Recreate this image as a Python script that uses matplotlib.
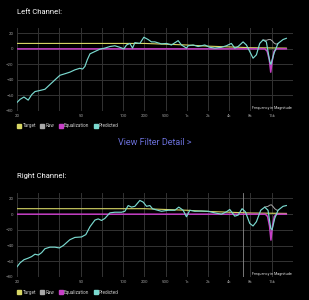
import numpy as np
import matplotlib.pyplot as plt
from matplotlib.lines import Line2D
from matplotlib.scale import FuncScale

plt.rcParams['font.family'] = ['Roboto', 'DejaVu Sans']

# x axis of the app: labels spaced evenly, low end stretched
tick_freqs = [20, 50, 100, 200, 500, 1000, 2000, 4000, 8000, 16000]
tick_labels = ['20', '50', '100', '200', '500', '1k', '2k', '4k', '8k', '16k']
tick_slots = [0, 3, 5, 6, 7, 8, 9, 10, 11, 12]
y_ticks = [20, 0, -20, -40, -60, -80]

# target curve (both channels)
target_f = [20, 200, 500, 1000, 2000, 4000, 8000, 25800]
target_db = [7, 7, 6, 5, 3.5, 2.5, 1.5, 1]

# left channel
left_pred_f = [20, 20.9, 22.1, 22.8, 23.5, 24.7, 25.9, 27.8, 29.9, 32.1, 34.5, 37.1,
               39.9, 42.8, 46, 49.4, 51.6, 53.6, 55.7, 58.2, 63.1, 68.4, 74.2, 80.6,
               87.4, 94.8, 102.5, 111.7, 124.6, 136, 146.7, 172.7, 196.7, 236, 272,
               314, 419, 515, 606, 754, 840, 989, 1045, 1229, 1447, 1799, 2116, 2493,
               3097, 3645, 4287, 4787, 5337, 6281, 7004, 7809, 8700, 9705, 10817,
               12057, 13441, 14989, 15600, 17266, 19666, 23151, 25815]
left_pred_db = [-69, -65, -62, -64, -66, -59, -55, -53.6, -52, -46, -40, -34,
                -32, -30, -27, -25, -26, -22.5, -14, -6.4, -3.4, -0.4, 1, 3,
                4, 2, 0, 5, 7, 1, 8, 7, 15, 12, 9,
                9, 6.4, 7, 5, 10.6, 5, 1, 4, 5, 3, 5, 2, 1,
                2, 4, 7, 1, 3, 9, 5, -3.4, -12, -7.7, 7,
                11.5, 9, -16, -20, -5.5, 7, 12, 13.6]
left_raw_f = [12057, 13441, 14500, 15400, 16400, 17266, 18500, 19666]
left_raw_db = [11.5, 11, 12, 12, 10, 7.5, 6, 7]
left_eq_f = [20, 12800, 13800, 14800, 15500, 16300, 17300, 18800, 25815]
left_eq_db = [0, 0, -3, -14, -30, -15, -3, 0, 0]

# right channel
right_pred_f = [20, 20.9, 22.1, 23.5, 24.7, 25.9, 27.2, 28.5, 29.9, 32.1, 34.5, 36.8,
                38.9, 42.8, 46, 50.7, 54.4, 58.2, 63.1, 66.6, 70.3, 74.2, 80.6, 87.4,
                97.5, 105.8, 118, 131.6, 146.7, 172.7, 192.5, 219.7, 253.7, 284, 314,
                419, 544, 676, 770, 887, 989, 1103, 1298, 1613, 2006, 2493, 3097,
                3645, 4067, 4787, 5337, 6080, 6779, 7809, 8700, 9705, 11174, 12730,
                14192, 15488, 16177, 17650, 19666, 23151, 25815]
right_pred_db = [-67, -62, -58, -56, -54, -51, -52, -49, -44, -42, -42, -43,
                 -40, -32.5, -29.6, -29, -26, -16, -7.5, -6, -8, -5.4, 1.7, 2.5,
                 2.5, 3.7, 11, 9, 10, 17.5, 15.4, 10, 11, 7, 6,
                 3.7, 5, 5, 9, 5, -3.3, 5, 3.7, 4, 3.7, 1.7, 0,
                 3, 6, -2.5, -1.2, 7, 3, -11.7, -15, -9.6, 5, 9,
                 5, -18, -20, -5.4, 5, 10, 11]
right_raw_f = [12730, 14192, 15000, 15800, 16600, 17650, 19000, 19666]
right_raw_db = [9, 10, 11.5, 12, 10, 7, 5, 5]
right_eq_f = [20, 13000, 14000, 14900, 15600, 16400, 17400, 18800, 25815]
right_eq_db = [0, 0, -3, -15, -33, -15, -3, 0, 0]
right_marker_f = 6277

log_knots = np.log10(tick_freqs + [32000])
slots = np.array(tick_slots + [13], dtype=float)


def fwd(f):
    f = np.asarray(f, dtype=float)
    return np.interp(np.log10(np.clip(f, 1e-6, None)), log_knots, slots)


def inv(x):
    return 10 ** np.interp(np.asarray(x, dtype=float), slots, log_knots)


BG = '#000000'
GRID = '#333333'
C_TARGET = '#d8d765'
C_RAW = '#a8a8a8'
C_EQ = '#c63fc6'
C_PRED = '#7ad9cf'


def draw_channel(ax, pf, pdb, rf, rdb, ef, edb):
    ax.set_facecolor(BG)
    ax.set_xscale(FuncScale(ax, (fwd, inv)))
    ax.set_xlim(20, 32000)
    ax.set_ylim(-80, 27)
    for s in ax.spines.values():
        s.set_visible(False)
    for k in range(14):
        ax.axvline(inv(k), color=GRID, lw=0.7, zorder=0)
    for y in y_ticks:
        ax.axhline(y, color=GRID, lw=0.7, zorder=0)
    ax.plot(target_f, target_db, color=C_TARGET, lw=0.8, zorder=2)
    ax.plot(rf, rdb, color=C_RAW, lw=0.7, zorder=2)
    ax.plot(ef, edb, color=C_EQ, lw=1.1, zorder=3)
    ax.plot(pf, pdb, color=C_PRED, lw=0.85, zorder=4)
    ax.set_xticks(tick_freqs)
    ax.set_xticklabels(tick_labels)
    ax.set_xticks([], minor=True)
    ax.set_yticks(y_ticks)
    ax.tick_params(length=0, labelsize=3.2, colors='#9a9a9a', pad=2.5)
    ax.text(0.995, 0.015, 'Frequency in Magnitude', transform=ax.transAxes,
            ha='right', va='bottom', fontsize=2.7, color='#dddddd')
    handles = [Line2D([], [], ls='none', marker='s', ms=3, mfc=c, mec=c)
               for c in (C_TARGET, C_RAW, C_EQ, C_PRED)]
    leg = ax.legend(handles, ['Target', 'Raw', 'Equalization', 'Predicted'],
                    loc='center left', bbox_to_anchor=(-0.005, -0.18), ncol=4,
                    frameon=False, fontsize=3.3, handlelength=0.8,
                    handletextpad=0.3, columnspacing=1.0, borderaxespad=0)
    for t in leg.get_texts():
        t.set_color('#cccccc')


fig = plt.figure(figsize=(3.09, 3.0), dpi=100, facecolor=BG)

ax1 = fig.add_axes([0.055, 0.63, 0.893, 0.277])
draw_channel(ax1, left_pred_f, left_pred_db, left_raw_f, left_raw_db,
             left_eq_f, left_eq_db)

ax2 = fig.add_axes([0.055, 0.0767, 0.893, 0.28])
draw_channel(ax2, right_pred_f, right_pred_db, right_raw_f, right_raw_db,
             right_eq_f, right_eq_db)
ax2.axvline(right_marker_f, color='#8a8a8a', lw=0.6, zorder=1)

fig.text(17 / 309, 1 - 12 / 300, 'Left Channel:', color='white', fontsize=5.5,
         ha='left', va='center')
fig.text(17 / 309, 1 - 176 / 300, 'Right Channel:', color='white', fontsize=5.5,
         ha='left', va='center')
fig.text(0.5, 1 - 142 / 300, 'View Filter Detail >', color='#6a6fd8',
         fontsize=6.5, ha='center', va='center')

fig.savefig('out.png', dpi=100, facecolor=BG)
